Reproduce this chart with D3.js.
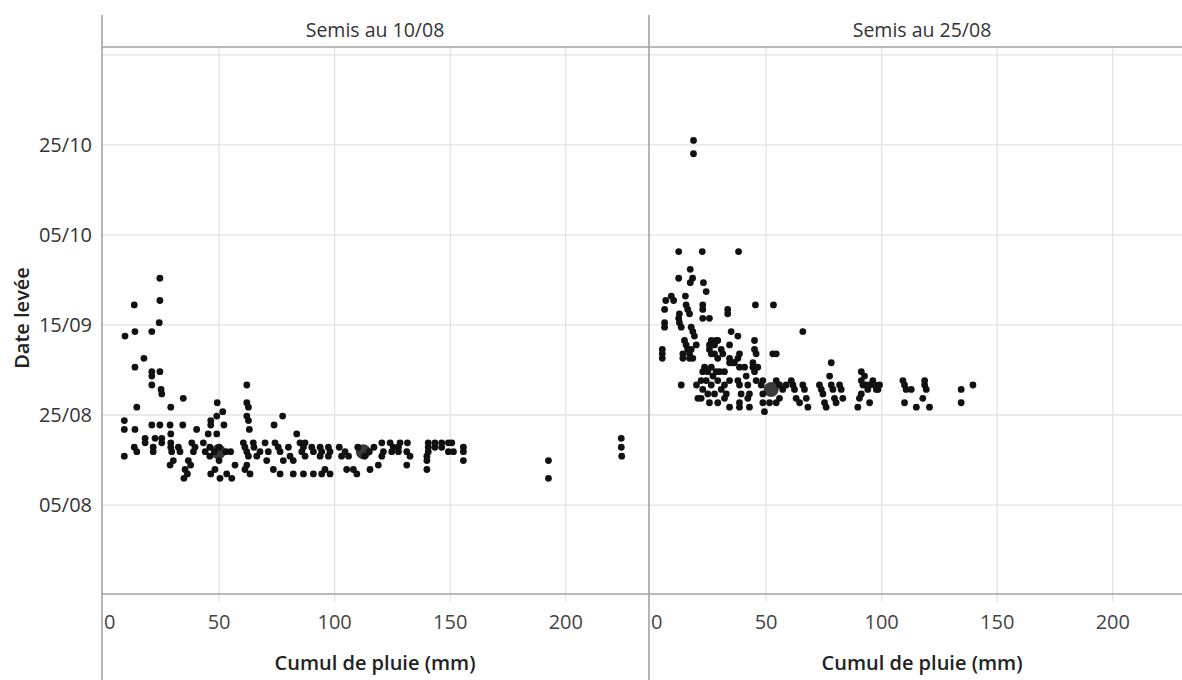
<!DOCTYPE html>
<html>
<head>
<meta charset="utf-8">
<title>Date levée selon le cumul de pluie</title>
<script src="https://cdn.jsdelivr.net/npm/d3@7"></script>
<style>
  body { margin: 0; background: #fff; }
  svg text { font-family: "Open Sans", "Noto Sans", sans-serif; }
</style>
</head>
<body>
<svg id="chart" width="1182" height="680"></svg>
<script>
// panneaux et graduations
var panels = ['Semis au 10/08', 'Semis au 25/08'];
var xTicks = [0, 50, 100, 150, 200];
var yTickDays = [0, 20.25, 40.5, 60.75, 81, 101.25]; // jours après le 05/08
var yTickLabels = ['05/08', '25/08', '15/09', '05/10', '25/10', ''];

// [cumul de pluie (mm), date de levée] - semis au 10/08
var points10 = [
  [24.4,'25/09'],[13.3,'19/09'],[24.4,'20/09'],[9.3,'12/09'],[13.6,'13/09'],[20.9,'13/09'],
  [24.1,'15/09'],[17.5,'07/09'],[13.6,'05/09'],[20.9,'04/09'],[24.4,'04/09'],[20.9,'03/09'],
  [20.9,'01/09'],[24.9,'31/08'],[25.2,'30/08'],[29.1,'27/08'],[34.5,'29/08'],[14.4,'27/08'],
  [62,'01/09'],[62,'28/08'],[62.7,'27/08'],[62,'25/08'],[62.7,'24/08'],[63.1,'22/08'],
  [49.2,'28/08'],[51.6,'26/08'],[49,'25/08'],[77.5,'25/08'],[73.8,'23/08'],[46.4,'24/08'],
  [46.4,'23/08'],[52.1,'23/08'],
  [9,'24/08'],[9,'22/08'],[13.6,'22/08'],[9,'16/08'],[13.3,'18/08'],[14.4,'17/08'],
  [18,'20/08'],[18,'19/08'],[21.5,'18/08'],[21.5,'17/08'],[20.9,'23/08'],[24.4,'23/08'],
  [22.3,'20/08'],[25.2,'20/08'],[25.2,'19/08'],[28.8,'23/08'],[29.1,'21/08'],[29.1,'19/08'],
  [29.1,'18/08'],[29.5,'17/08'],[32.4,'18/08'],[33.1,'17/08'],[28.8,'14/08'],[30.2,'15/08'],
  [34.3,'23/08'],[40.3,'22/08'],[38.2,'19/08'],[39.6,'18/08'],[38.9,'17/08'],[36.7,'15/08'],
  [35.3,'13/08'],[36.3,'12/08'],[34.8,'11/08'],[37.7,'14/08'],
  [43.2,'19/08'],[45.3,'21/08'],[49,'21/08'],[46,'18/08'],[48,'17/08'],[50,'18/08'],
  [53,'17/08'],[46,'16/08'],[50,'15/08'],[55,'17/08'],[44,'17/08'],[48.2,'13/08'],
  [50.4,'11/08'],[53.3,'12/08'],[55.5,'11/08'],[56.9,'14/08'],[46.4,'12/08'],[60.5,'19/08'],
  [61.2,'18/08'],[62,'17/08'],[62.7,'16/08'],[62,'14/08'],[61.2,'13/08'],[63.4,'12/08'],
  [64.8,'19/08'],[65.1,'18/08'],[66.3,'16/08'],[67.7,'17/08'],[69.9,'19/08'],[71.3,'17/08'],
  [70.6,'15/08'],
  [74.2,'19/08'],[75.6,'18/08'],[76.4,'17/08'],[77.8,'15/08'],[73.5,'13/08'],[76.4,'12/08'],
  [80,'18/08'],[80.7,'16/08'],[82.1,'15/08'],[83.6,'21/08'],[85,'19/08'],[87.2,'19/08'],
  [86.5,'18/08'],[85.8,'17/08'],[87.2,'16/08'],[90.1,'18/08'],[90.8,'17/08'],[93.7,'18/08'],
  [94.4,'17/08'],[93.7,'16/08'],[97.3,'18/08'],[98,'17/08'],[97.3,'16/08'],[82.1,'12/08'],
  [86.5,'12/08'],[90.8,'12/08'],[94.4,'12/08'],[98,'12/08'],[95.8,'13/08'],
  [104.5,'17/08'],[102,'18/08'],[106,'16/08'],[103,'16/08'],[105.2,'13/08'],[108.1,'13/08'],
  [109.6,'12/08'],[110,'18/08'],[115,'17/08'],[113,'16/08'],[117,'18/08'],[115.3,'13/08'],
  [118.9,'14/08'],[120.4,'19/08'],[121.1,'17/08'],[120.4,'16/08'],[124,'19/08'],[125.4,'18/08'],
  [124.7,'17/08'],[127.6,'18/08'],[128.3,'19/08'],[127.6,'17/08'],[131.5,'19/08'],[131.2,'17/08'],
  [132.6,'16/08'],[131.2,'14/08'],[140.5,'19/08'],[140.5,'18/08'],[140.5,'17/08'],[139.9,'16/08'],
  [139.9,'15/08'],[139.9,'13/08'],[143.4,'19/08'],[143.4,'18/08'],[146.3,'19/08'],[146.3,'18/08'],
  [149.2,'19/08'],[149.2,'17/08'],[150.7,'19/08'],[151.4,'17/08'],[155.7,'18/08'],[155.7,'17/08'],
  [155.7,'15/08'],
  [192.5,'15/08'],[192.5,'11/08'],[224,'20/08'],[224,'18/08'],[224.2,'16/08']
];

// semis au 25/08
var points25 = [
  [18.6,'26/10'],[18.6,'23/10'],[12.2,'01/10'],[22.4,'01/10'],[38.1,'01/10'],[17.2,'27/09'],
  [12.2,'25/09'],[18.2,'25/09'],[17.2,'24/09'],[22.9,'24/09'],[24.1,'22/09'],[9,'21/09'],
  [6.6,'20/09'],[10,'20/09'],[15.1,'21/09'],[15.4,'19/09'],[16.1,'18/09'],[16.9,'17/09'],
  [6.1,'18/09'],[12.5,'17/09'],[12.2,'16/09'],[22.6,'19/09'],[22.6,'18/09'],[22.6,'16/09'],
  [25.5,'16/09'],[33.4,'18/09'],[33.4,'17/09'],[45.4,'19/09'],[53.2,'19/09'],[6.1,'15/09'],
  [6.1,'14/09'],[12.5,'15/09'],[13.3,'14/09'],[17.6,'14/09'],[18.3,'13/09'],[19,'12/09'],
  [34.9,'13/09'],[37.8,'12/09'],[14.7,'11/09'],[15.4,'10/09'],[16.1,'09/09'],[16.9,'08/09'],
  [14,'07/09'],[18.3,'07/09'],[19.8,'10/09'],[26.3,'11/09'],[28.4,'11/09'],[25.5,'09/09'],
  [27.7,'08/09'],[34.2,'10/09'],[45,'11/09'],[45,'09/09'],[45.7,'08/09'],[52.9,'08/09'],
  [54.4,'08/09'],[5.1,'09/09'],[5.1,'08/09'],[5.1,'07/09'],[13.3,'01/09'],[23.4,'05/09'],
  [26.3,'05/09'],[28.4,'04/09'],[34.2,'06/09'],[36.3,'06/09'],[38.5,'05/09'],[40.7,'05/09'],
  [44.3,'06/09'],[44.3,'05/09'],[78.2,'06/09'],[91.2,'04/09'],[92.6,'03/09'],[65.9,'13/09'],
  [17.6,'09/09'],[14,'08/09'],[16.9,'07/09'],[25.5,'10/09'],[27.7,'10/09'],[29.1,'11/09'],
  [30.6,'09/09'],[26.3,'08/09'],[29.1,'07/09'],[31.3,'08/09'],[34.2,'07/09'],[35.6,'06/09'],
  [37.8,'07/09'],[38.5,'08/09'],[46.4,'05/09'],
  [22.6,'04/09'],[24.8,'04/09'],[27,'03/09'],[29.9,'04/09'],[32,'04/09'],[21.9,'02/09'],
  [24.1,'02/09'],[26.3,'01/09'],[29.1,'02/09'],[32,'01/09'],[34.2,'02/09'],[22.6,'31/08'],
  [24.8,'30/08'],[27.7,'30/08'],[30.6,'31/08'],[32.8,'30/08'],[21.9,'29/08'],[25.5,'28/08'],
  [29.1,'28/08'],[32,'29/08'],[34.2,'27/08'],[37.8,'02/09'],[38.5,'01/09'],[39.2,'30/08'],
  [38.5,'28/08'],[38.5,'27/08'],[41.4,'03/09'],[42.1,'01/09'],[42.8,'30/08'],[42.1,'29/08'],
  [42.8,'27/08'],[45,'04/09'],[45.7,'02/09'],[48.6,'02/09'],[47.9,'01/09'],[48.6,'30/08'],
  [48.6,'28/08'],[49.3,'26/08'],[51.5,'28/08'],[54.4,'28/08'],[55.8,'29/08'],[57.2,'31/08'],
  [55.8,'01/09'],[54.4,'02/09'],[58.7,'01/09'],[60.9,'02/09'],[61.6,'01/09'],[62.3,'31/08'],
  [63,'29/08'],[64.5,'28/08'],[65.9,'01/09'],[66.6,'31/08'],[67.4,'29/08'],[68.1,'27/08'],
  [73.1,'01/09'],[73.9,'31/08'],[74.6,'30/08'],[75.3,'28/08'],[76,'27/08'],[77.5,'03/09'],
  [78.2,'01/09'],[78.9,'31/08'],[79.6,'29/08'],[80.3,'28/08'],[81.8,'01/09'],[82.5,'31/08'],
  [83.2,'29/08'],[91.2,'02/09'],[91.9,'01/09'],[91.2,'30/08'],[90.4,'29/08'],[89.7,'27/08'],
  [93.3,'01/09'],[94.8,'01/09'],[94,'31/08'],[96.2,'02/09'],[96.9,'01/09'],[97.7,'31/08'],
  [94.8,'28/08'],[99.1,'01/09'],[98.4,'31/08'],[109.2,'02/09'],[109.9,'01/09'],[110.6,'31/08'],
  [112.8,'31/08'],[109.9,'28/08'],[115,'27/08'],[118.6,'02/09'],[118.6,'01/09'],[119.3,'31/08'],
  [117.8,'29/08'],[120.7,'27/08'],[134.4,'31/08'],[134.4,'28/08'],[139.5,'01/09'],[19.9,'01/09'],
  [20.5,'29/08']
];

// points superposés (marques plus grosses)
var grosPoints10 = [[49.7,'17/08'],[112.4,'17/08']];
var grosPoints25 = [[52.2,'31/08']];

var left0 = 102, panelW = 547, top0 = 47, bottom0 = 594;
var svg = d3.select('#chart');

var parseJour = d3.timeParse('%d/%m');
var origine = parseJour('05/08');
function jours(s) { return d3.timeDay.count(origine, parseJour(s)); }

var x = d3.scaleLinear().domain([0, 236]).range([1.5, panelW]);
var y = d3.scaleLinear().domain([-20, 103]).range([bottom0, top0]);

var donnees = [points10, points25];
var gros = [grosPoints10, grosPoints25];

panels.forEach(function(titre, i) {
  var g = svg.append('g').attr('transform', 'translate(' + (left0 + i * panelW) + ',0)');

  // grille verticale (dépasse un peu sous l'axe)
  g.selectAll('.vgrid').data(xTicks.slice(1)).enter().append('line')
    .attr('x1', function(d) { return x(d); }).attr('x2', function(d) { return x(d); })
    .attr('y1', top0).attr('y2', bottom0 + 8)
    .attr('stroke', '#e3e3e3').attr('stroke-width', 1.3);

  // grille horizontale
  g.selectAll('.hgrid').data(yTickDays).enter().append('line')
    .attr('x1', 0).attr('x2', panelW)
    .attr('y1', function(d) { return y(d); }).attr('y2', function(d) { return y(d); })
    .attr('stroke', '#e3e3e3').attr('stroke-width', 1.3);

  // libellés axe x
  g.selectAll('.xlab').data(xTicks).enter().append('text')
    .attr('x', function(d) { return d === 0 ? 2 : x(d); })
    .attr('y', 629)
    .attr('text-anchor', function(d) { return d === 0 ? 'start' : 'middle'; })
    .attr('font-size', 20).attr('fill', '#444')
    .text(function(d) { return d; });

  g.append('text')
    .attr('x', 273).attr('y', 670)
    .attr('text-anchor', 'middle').attr('font-size', 20).attr('font-weight', 600).attr('fill', '#222')
    .text('Cumul de pluie (mm)');

  g.append('text')
    .attr('x', 273).attr('y', 37)
    .attr('text-anchor', 'middle').attr('font-size', 19.5).attr('fill', '#333')
    .text(titre);

  // points
  g.selectAll('.gros').data(gros[i]).enter().append('circle')
    .attr('cx', function(d) { return x(d[0]); })
    .attr('cy', function(d) { return y(jours(d[1])); })
    .attr('r', 7.5).attr('fill', '#3a3a3a');

  g.selectAll('.pt').data(donnees[i]).enter().append('circle')
    .attr('cx', function(d) { return x(d[0]); })
    .attr('cy', function(d) { return y(jours(d[1])); })
    .attr('r', 3.4).attr('fill', '#111');
});

// axe y
svg.selectAll('.ylab').data(yTickDays).enter().append('text')
  .attr('x', 92).attr('y', function(d) { return y(d) + 7; })
  .attr('text-anchor', 'end').attr('font-size', 20).attr('fill', '#333')
  .text(function(d, i) { return yTickLabels[i]; });

svg.append('text')
  .attr('transform', 'translate(29,318) rotate(-90)')
  .attr('text-anchor', 'middle').attr('font-size', 20).attr('font-weight', 600).attr('fill', '#222')
  .text('Date levée');

// cadres
var trait = '#a3a3a3';
svg.append('line').attr('x1', left0).attr('x2', left0).attr('y1', 15).attr('y2', 680).attr('stroke', trait).attr('stroke-width', 1.6);
svg.append('line').attr('x1', left0 + panelW).attr('x2', left0 + panelW).attr('y1', 15).attr('y2', 680).attr('stroke', trait).attr('stroke-width', 1.6);
svg.append('line').attr('x1', left0).attr('x2', 1182).attr('y1', top0).attr('y2', top0).attr('stroke', trait).attr('stroke-width', 1.6);
svg.append('line').attr('x1', left0).attr('x2', 1182).attr('y1', bottom0).attr('y2', bottom0).attr('stroke', trait).attr('stroke-width', 1.6);
</script>
</body>
</html>
